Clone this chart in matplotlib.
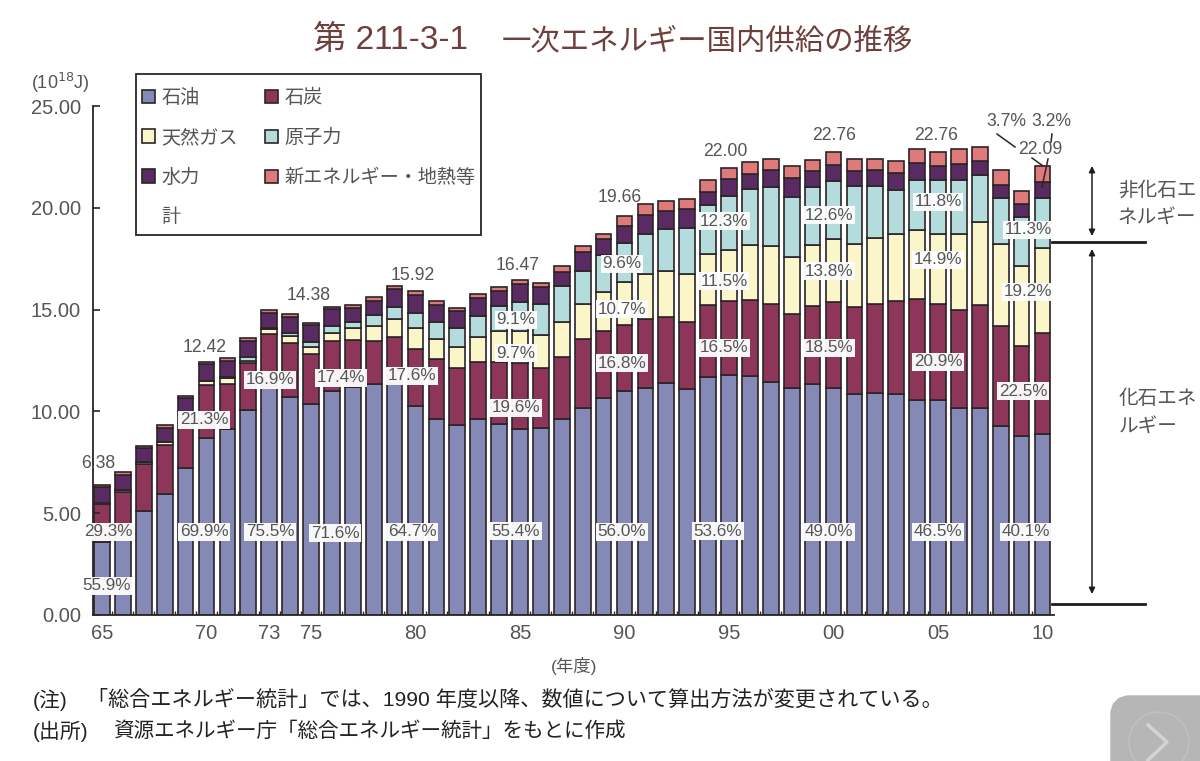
import numpy as np
import matplotlib
matplotlib.use("Agg")
import matplotlib.pyplot as plt
from matplotlib.lines import Line2D
from matplotlib.patches import FancyBboxPatch, Patch, Circle, Rectangle
from matplotlib.transforms import Affine2D

years = np.arange(1965, 2011)

oil = [3.6, 4.1, 5.1, 5.94, 7.2, 8.7, 9.13, 10.07, 11.2, 10.72, 10.35, 11.0, 11.2, 11.34, 11.34, 10.26,
       9.62, 9.32, 9.62, 9.37, 9.13, 9.18, 9.62, 10.18, 10.64, 11.0, 11.13, 11.38, 11.09, 11.7, 11.78,
       11.73, 11.46, 11.14, 11.33, 11.17, 10.85, 10.9, 10.85, 10.56, 10.56, 10.17, 10.17, 9.3, 8.79, 8.88]
coal = [1.85, 1.94, 2.31, 2.41, 2.6, 2.6, 2.22, 2.31, 2.6, 2.64, 2.47, 2.46, 2.3, 2.12, 2.31, 2.8,
        2.95, 2.81, 2.82, 3.07, 3.26, 2.95, 3.07, 3.37, 3.31, 3.24, 3.41, 3.27, 3.31, 3.53, 3.64,
        3.74, 3.82, 3.64, 3.85, 4.2, 4.28, 4.38, 4.57, 4.96, 4.72, 4.81, 5.06, 4.9, 4.41, 4.97]
gas = [.07, .10, .12, .15, .15, .18, .30, .11, .25, .34, .36, .40, .60, .74, .89, 1.04,
       .98, 1.03, 1.21, 1.52, 1.57, 1.62, 1.71, 1.73, 1.91, 2.13, 2.21, 2.25, 2.35, 2.50, 2.52,
       2.70, 2.84, 2.80, 2.99, 3.10, 3.09, 3.25, 3.29, 3.39, 3.43, 3.73, 4.07, 4.02, 3.94, 4.17]
nuclear = [0, 0, 0, 0, .02, .02, .03, .18, .05, .16, .24, .34, .29, .53, .60, .73,
           .84, .95, 1.04, 1.22, 1.43, 1.53, 1.76, 1.62, 1.82, 1.90, 1.96, 2.05, 2.25, 2.40, 2.66,
           2.75, 2.88, 2.97, 2.83, 2.83, 2.85, 2.54, 2.16, 2.46, 2.66, 2.66, 2.33, 2.25, 2.41, 2.46]
hydro = [.77, .74, .67, .70, .68, .83, .81, .79, .73, .77, .82, .83, .69, .69, .86, .90,
         .84, .82, .88, .72, .87, .84, .70, .93, .79, .83, .94, .87, .94, .67, .80,
         .74, .85, .91, .80, .80, .73, .79, .86, .83, .68, .78, .67, .67, .62, .79]
new_energy = [.09, .14, .12, .13, .12, .11, .13, .14, .15, .15, .10, .11, .15, .18, .17, .20,
              .21, .17, .20, .23, .19, .20, .28, .29, .23, .50, .54, .51, .51, .56, .57,
              .58, .55, .59, .55, .63, .60, .54, .57, .67, .68, .72, .68, .71, .67, .78]

names = ["石油", "石炭", "天然ガス", "原子力", "水力", "新エネルギー・地熱等"]
colors = ["#8589b6", "#8e3659", "#fbf6c9", "#b4dcdd", "#5a2a62", "#de7b7a"]

tick_years = [1965, 1970, 1973, 1975, 1980, 1985, 1990, 1995, 2000, 2005, 2010]
tick_labels = ["65", "70", "73", "75", "80", "85", "90", "95", "00", "05", "10"]

# share labels, white boxes over the bars
pct_labels = ["55.9%", "29.3%", "69.9%", "75.5%", "71.6%", "64.7%", "55.4%", "56.0%", "53.6%", "49.0%", "46.5%", "40.1%",
              "21.3%", "16.9%", "17.4%", "17.6%", "19.6%", "16.8%", "16.5%", "18.5%", "20.9%", "22.5%",
              "9.7%", "10.7%", "11.5%", "13.8%", "14.9%", "19.2%",
              "9.1%", "9.6%", "12.3%", "12.6%", "11.8%", "11.3%"]
pct_xy = [(107, 586), (108, 532), (204, 532), (270, 532), (335, 533), (412, 532), (516, 531), (622, 532), (718, 531), (829, 532), (938, 532), (1026, 532),
          (204, 420), (270, 380), (341, 378), (412, 376), (516, 408), (622, 363), (724, 348), (829, 348), (938, 362), (1023, 391),
          (516, 353), (622, 309), (724, 281), (829, 271), (938, 260), (1028, 292),
          (516, 320), (622, 264), (724, 221), (829, 215), (938, 202), (1028, 230)]

total_labels = ["6.38", "12.42", "14.38", "15.92", "16.47", "19.66", "22.00", "22.76", "22.76", "22.09", "3.7%", "3.2%"]
total_xy = [(98, 463), (205, 348), (309, 296), (413, 275), (518, 266), (620, 197), (725, 152), (834, 136), (936, 136), (1040, 150), (1006, 121), (1051, 121)]

plt.rcParams['font.family'] = ['Liberation Sans', 'Noto Sans CJK JP']
TXT = "#555555"
DARK = "#2b2428"

fig = plt.figure(figsize=(12, 7.61), dpi=100)
px = Affine2D().scale(1, -1).translate(0, 761)  # pixel coords, y down

ax = fig.add_axes([93 / 1200, 1 - 615 / 761, (1054 - 93) / 1200, (615 - 106) / 761])

bottom = np.zeros(len(years))
handles = []
for vals, name, col in zip([oil, coal, gas, nuclear, hydro, new_energy], names, colors):
    bars = ax.bar(years, vals, width=0.75, bottom=bottom, color=col, edgecolor=DARK, linewidth=1.2, label=name)
    handles.append(bars)
    bottom = bottom + np.array(vals)

ax.set_xlim(1964.57, 2010.55)
ax.set_ylim(0, 25)
ax.spines[['top', 'right']].set_visible(False)
ax.spines[['left', 'bottom']].set_linewidth(1.3)
ax.spines[['left', 'bottom']].set_color(DARK)
ax.set_yticks(np.arange(0, 26, 5))
ax.set_yticklabels(["%.2f" % v for v in np.arange(0, 26, 5)], fontsize=14.5, color=TXT)
ax.tick_params(axis='y', direction='in', length=5, width=1.2, color=DARK, pad=8.6)
ax.set_xticks(tick_years)
ax.set_xticklabels(tick_labels, fontsize=14.5, color=TXT)
ax.tick_params(axis='x', which='major', length=0, pad=6.5)
ax.set_xticks(years[:-1] + 0.5, minor=True)
ax.tick_params(axis='x', which='minor', direction='in', length=3, width=1, color=DARK)

# legend: two columns, 計 has no swatch, frame drawn separately for its uneven padding
ax.add_patch(Rectangle((136, 74), 345, 161, transform=px, facecolor='white', edgecolor=DARK, lw=1.3,
                       clip_on=False, zorder=4))
blank = Patch(facecolor='none', edgecolor='none')
leg_handles = [handles[0], handles[2], handles[4], blank, handles[1], handles[3], handles[5], blank]
leg_labels = ["石油", "天然ガス", "水力", "計", "石炭", "原子力", "新エネルギー・地熱等", ""]
leg = ax.legend(leg_handles, leg_labels, ncol=2, loc='upper left', bbox_to_anchor=(142, 89), bbox_transform=px,
                borderaxespad=0, fontsize=13.8, labelcolor=TXT, frameon=False, handlelength=0.7, handleheight=0.7,
                handletextpad=0.32, labelspacing=1.13, columnspacing=1.4, borderpad=0)
leg.set_zorder(5)

for label, (x, y) in zip(pct_labels, pct_xy):
    fig.text(x, y, label, transform=px, ha='center', va='center', fontsize=12.3, color=TXT, zorder=6,
             bbox=dict(facecolor='white', edgecolor='none', pad=1.2, alpha=0.95))
for label, (x, y) in zip(total_labels, total_xy):
    fig.text(x, y, label, transform=px, ha='center', va='center', fontsize=12.7, color=TXT, zorder=6)

# leader lines at the 2010 bar
for xs, ys in [((997, 1015), (134, 147)), ((1032, 1043), (158, 166)), ((1052, 1051), (134, 142)), ((1048, 1042), (159, 187))]:
    fig.add_artist(Line2D(xs, ys, transform=px, color=DARK, lw=1.1, zorder=7))

# fossil / non-fossil brackets
for y in (241.5, 603.5):
    fig.add_artist(Line2D((1052, 1145), (y, y), transform=px, color="#1c1c1c", lw=2.0))
for y0, y1 in [(166, 236), (249, 594)]:
    ax.annotate('', xy=(1092, y1), xytext=(1092, y0), xycoords=px, textcoords=px, annotation_clip=False,
                arrowprops=dict(arrowstyle='<|-|>', color="#1c1c1c", lw=1.1, mutation_scale=9, shrinkA=0, shrinkB=0))
for txt, x, y in [("非化石エ", 1118, 190), ("ネルギー", 1118, 217), ("化石エネ", 1119, 399), ("ルギー", 1119, 426)]:
    fig.text(x, y, txt, transform=px, ha='left', va='center', fontsize=14.1, color=TXT)

# title in two parts, the number runs wider than the kana
fig.text(313, 49, "第 211-3-1", transform=px, ha='left', va='baseline', fontsize=24, color="#6e3f3b")
fig.text(913, 49, "一次エネルギー国内供給の推移", transform=px, ha='right', va='baseline', fontsize=21.2, color="#6e3f3b")
fig.text(31, 83, "(10$^{18}$J)", transform=px, ha='left', va='center', fontsize=13, color=TXT)
fig.text(574, 666, "(年度)", transform=px, ha='center', va='center', fontsize=12.5, color=TXT)
fig.text(33, 700, "(注)", transform=px, ha='left', va='center', fontsize=15, color="#222222")
fig.text(87, 700, "「総合エネルギー統計」では、1990 年度以降、数値について算出方法が変更されている。", transform=px,
         ha='left', va='center', fontsize=15.2, color="#222222")
fig.text(33, 731, "(出所)", transform=px, ha='left', va='center', fontsize=15, color="#222222")
fig.text(113, 731, "資源エネルギー庁「総合エネルギー統計」をもとに作成", transform=px, ha='left', va='center',
         fontsize=14.8, color="#222222")

# player button in the bottom corner of the screenshot
fig.add_artist(FancyBboxPatch((1120, 705), 100, 80, boxstyle="round,pad=0,rounding_size=10", transform=px,
                              facecolor="#b6b6b6", edgecolor="#b6b6b6", lw=14, clip_on=True))
fig.add_artist(Circle((1159, 742), 30, transform=px, facecolor='none', edgecolor="#c2c2c2", lw=1))
fig.add_artist(Line2D((1148, 1167, 1148), (725, 742, 760), transform=px, color="#d4d4d4", lw=2.5))

fig.savefig("out.png", dpi=100)
